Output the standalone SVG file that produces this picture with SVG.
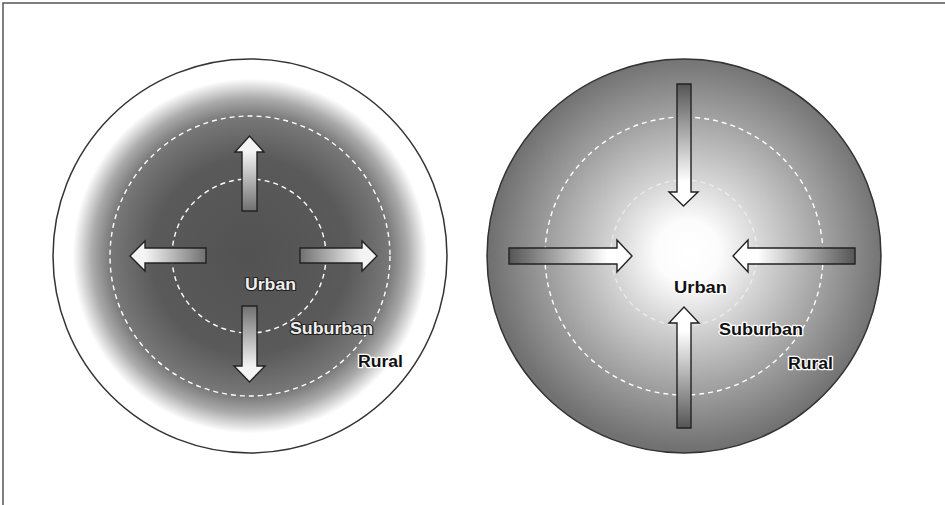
<svg xmlns="http://www.w3.org/2000/svg" width="945" height="505" viewBox="0 0 945 505">
  <style>
    .frame{stroke:#555;stroke-width:1.5;fill:none}
    .disc{stroke:#333;stroke-width:1.5}
    .dash{fill:none;stroke:#fff;stroke-width:1.4;stroke-dasharray:5 4}
    .arrow{stroke:#222;stroke-width:1.4;stroke-linejoin:miter}
    .lbl{font-family:"Liberation Sans",Arial,sans-serif;font-weight:bold;font-size:16px;paint-order:stroke;stroke-linejoin:round}
    .light{fill:#eeeeee;stroke:#222;stroke-width:2.2}
    .dark{fill:#111;stroke:#fff;stroke-width:2.5}
  </style>
  <defs>
    <radialGradient id="gOut" cx="0.5" cy="0.5" r="0.5">
      <stop offset="0" stop-color="#525252"/>
      <stop offset="0.5" stop-color="#5a5a5a"/>
      <stop offset="0.71" stop-color="#787878"/>
      <stop offset="0.8" stop-color="#aaaaaa"/>
      <stop offset="0.9" stop-color="#fff"/>
      <stop offset="1" stop-color="#fff"/>
    </radialGradient>
    <radialGradient id="gIn" cx="0.51" cy="0.49" r="0.5">
      <stop offset="0" stop-color="#fff"/>
      <stop offset="0.16" stop-color="#fcfcfc"/>
      <stop offset="0.37" stop-color="#d6d6d6"/>
      <stop offset="0.7" stop-color="#a0a0a0"/>
      <stop offset="1" stop-color="#717171"/>
    </radialGradient>
    <linearGradient id="oUp" x1="0" y1="1" x2="0" y2="0">
      <stop offset="0" stop-color="#707070"/><stop offset="0.8" stop-color="#f4f4f4"/>
    </linearGradient>
    <linearGradient id="oDown" x1="0" y1="0" x2="0" y2="1">
      <stop offset="0" stop-color="#707070"/><stop offset="0.8" stop-color="#f4f4f4"/>
    </linearGradient>
    <linearGradient id="oLeft" x1="1" y1="0" x2="0" y2="0">
      <stop offset="0" stop-color="#707070"/><stop offset="0.8" stop-color="#f4f4f4"/>
    </linearGradient>
    <linearGradient id="oRight" x1="0" y1="0" x2="1" y2="0">
      <stop offset="0" stop-color="#707070"/><stop offset="0.8" stop-color="#f4f4f4"/>
    </linearGradient>
    <linearGradient id="iUp" x1="0" y1="1" x2="0" y2="0">
      <stop offset="0" stop-color="#555"/><stop offset="0.8" stop-color="#fff"/>
    </linearGradient>
    <linearGradient id="iDown" x1="0" y1="0" x2="0" y2="1">
      <stop offset="0" stop-color="#555"/><stop offset="0.8" stop-color="#fff"/>
    </linearGradient>
    <linearGradient id="iLeft" x1="1" y1="0" x2="0" y2="0">
      <stop offset="0" stop-color="#555"/><stop offset="0.8" stop-color="#fff"/>
    </linearGradient>
    <linearGradient id="iRight" x1="0" y1="0" x2="1" y2="0">
      <stop offset="0" stop-color="#555"/><stop offset="0.8" stop-color="#fff"/>
    </linearGradient>
  </defs>

  <rect width="945" height="505" fill="#fff"/>
  <path class="frame" d="M3,505 V3 H945"/>

  <g id="outward-city">
    <circle class="disc" cx="250" cy="256" r="197" fill="url(#gOut)"/>
    <circle class="dash" cx="250" cy="256" r="140"/>
    <circle class="dash" cx="249" cy="256" r="77" stroke-width="1.8"/>
  </g>

  <g id="inward-city">
    <circle class="disc" cx="684" cy="256" r="197" fill="url(#gIn)" stroke="#444"/>
    <circle class="dash" cx="684" cy="256" r="139"/>
    <circle class="dash" cx="684" cy="253" r="73" opacity="0.5"/>
  </g>

  <g id="connectors">
    <g id="out-arrows">
      <polygon class="arrow" fill="url(#oUp)" points="242,211 242,152 235,152 249.5,136 264,152 257,152 257,211"/>
      <polygon class="arrow" fill="url(#oDown)" points="242,306 242,366 234,366 249.5,382 265,366 257,366 257,306"/>
      <polygon class="arrow" fill="url(#oLeft)" points="206,248 145,248 145,241 130,256 145,271 145,263 206,263"/>
      <polygon class="arrow" fill="url(#oRight)" points="300,248 362,248 362,241 377,256 362,271 362,263 300,263"/>
    </g>
    <g id="in-arrows">
      <polygon class="arrow" fill="url(#iDown)" points="677,84 677,192 669,192 683.5,206 698,192 691,192 691,84"/>
      <polygon class="arrow" fill="url(#iUp)" points="677,428 677,323 669,323 684,307 699,323 691,323 691,428"/>
      <polygon class="arrow" fill="url(#iRight)" points="509,248 617,248 617,240 632,256 617,272 617,264 509,264"/>
      <polygon class="arrow" fill="url(#iLeft)" points="855,248 748,248 748,240 733,256 748,272 748,264 855,264"/>
    </g>
  </g>

  <g id="labels-outward">
    <text class="lbl light" x="245" y="290" textLength="51" lengthAdjust="spacingAndGlyphs">Urban</text>
    <text class="lbl light" x="290" y="334" textLength="83" lengthAdjust="spacingAndGlyphs">Suburban</text>
    <text class="lbl dark" x="358" y="367" textLength="45" lengthAdjust="spacingAndGlyphs">Rural</text>
  </g>
  <g id="labels-inward">
    <text class="lbl dark" x="674" y="293" textLength="53" lengthAdjust="spacingAndGlyphs">Urban</text>
    <text class="lbl dark" x="719" y="335" textLength="84" lengthAdjust="spacingAndGlyphs">Suburban</text>
    <text class="lbl dark" x="788" y="369" textLength="45" lengthAdjust="spacingAndGlyphs">Rural</text>
  </g>
</svg>
